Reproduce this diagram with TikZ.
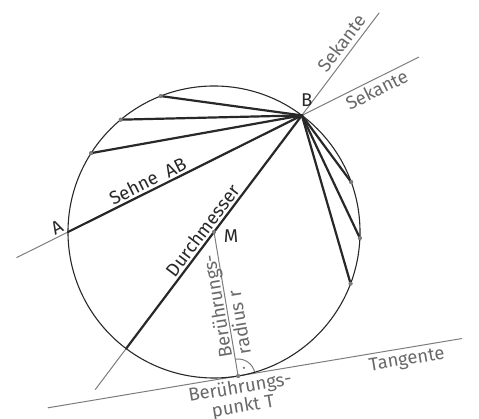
\documentclass[tikz,border=0pt]{standalone}
\usepackage{fontspec}
\setmainfont{Fira Sans}
\usetikzlibrary{calc}
\definecolor{ink}{RGB}{40,40,40}
\definecolor{lightink}{RGB}{125,125,125}
\definecolor{graytext}{RGB}{105,105,105}

\begin{document}
\begin{tikzpicture}[
  x=1pt, y=1pt,
  font=\fontsize{18.5}{19}\selectfont,
  circ/.style={draw=ink, line width=1.1pt},
  chord/.style={draw=ink, line width=2.2pt, line cap=round},
  thinline/.style={draw=lightink, line width=1pt},
  dot/.style={circle, fill=lightink, inner sep=0pt, minimum size=4pt},
  lbl/.style={text=ink, inner sep=1pt},
  glbl/.style={text=graytext, inner sep=2pt}
]
\useasboundingbox (0,0) rectangle (479,419);

% centre and points on the circle
\node[dot] (M) at (214,187) {};
\coordinate (A) at ($(M.center)+(180:146)$);
\coordinate (B) at ($(M.center)+(53:146)$);
\coordinate (D) at ($(M.center)+(233:146)$);
\node[dot] (T) at ($(M.center)+(-80.5:146)$) {};
\node[dot] (p1) at ($(M.center)+(111.4:146)$) {};
\node[dot] (p2) at ($(M.center)+(129.7:146)$) {};
\node[dot] (p3) at ($(M.center)+(147.3:146)$) {};
\node[dot] (q1) at ($(M.center)+(20:146)$) {};
\node[dot] (q2) at ($(M.center)+(-2.4:146)$) {};
\node[dot] (q3) at ($(M.center)+(-20.7:146)$) {};

% ends of the straight lines
\coordinate (secAleft) at ($(B)!1.22!(A)$);
\coordinate (secAright) at ($(A)!1.5!(B)$);
\coordinate (secDlow) at ($(B)!1.176!(D)$);
\coordinate (secDup) at ($(D)!1.44!(B)$);
\coordinate (tanleft) at ($(T.center)+(189.5:193)$);
\coordinate (tanright) at ($(T.center)+(9.5:227)$);

% thin lines
\draw[thinline] (secAleft) -- (secAright);
\draw[thinline] (secDlow) -- (secDup);
\draw[thinline] (tanleft) -- (tanright);
\draw[thinline] (M.center) -- (T.center);
\draw[thinline] ($(T.center)+(99.5:17)$) arc[start angle=99.5, end angle=9.5, radius=17];
\fill[lightink] ($(T.center)+(54.5:10)$) circle (1.3pt);

\draw[circ] (M.center) circle (146);

% chords
\draw[chord] (A) -- (B);
\draw[chord] (D) -- (B);
\draw[chord] (B) -- (p1.center);
\draw[chord] (B) -- (p2.center);
\draw[chord] (B) -- (p3.center);
\draw[chord] (B) -- (q1.center);
\draw[chord] (B) -- (q2.center);
\draw[chord] (B) -- (q3.center);

\foreach \p in {M,p1,p2,p3,q1,q2,q3,T} \node[dot] at (\p.center) {};

% labels
\node[lbl] (labB) at ($(B)+(5,15)$) {B};
\node[lbl, rotate=27] (labA) at ($(A)+(-11,5)$) {A};
\node[lbl] (labM) at ($(M.center)+(17,-4)$) {M};
\path (A) -- (B) node[lbl, pos=0.36, sloped, above=2pt] (sehne) {Sehne\ \ AB};
\path (D) -- (B) node[lbl, pos=0.48, sloped, above=2pt] (durch) {Durchmesser};
\path (B) -- (secDup) node[glbl, pos=0.636, sloped, above=3pt] (sek1) {Sekante};
\path (B) -- (secAright) node[glbl, pos=0.6, sloped, below=1pt] (sek2) {Sekante};
\path (T.center) -- (tanright) node[glbl, pos=0.745, sloped, below=2pt] (tang) {Tangente};
\node[glbl, rotate=9.5, align=center, anchor=north, inner sep=1pt] (bpunkt) at ($(T.center)+(-80.5:2)$) {Berührungs-\\punkt T};
\node[glbl, rotate=99.5, align=left, anchor=west, inner sep=1pt] (bradius) at ($(T.center)!19pt!(M.center)$) {Berührungs-\\radius r};
\end{tikzpicture}
\end{document}
